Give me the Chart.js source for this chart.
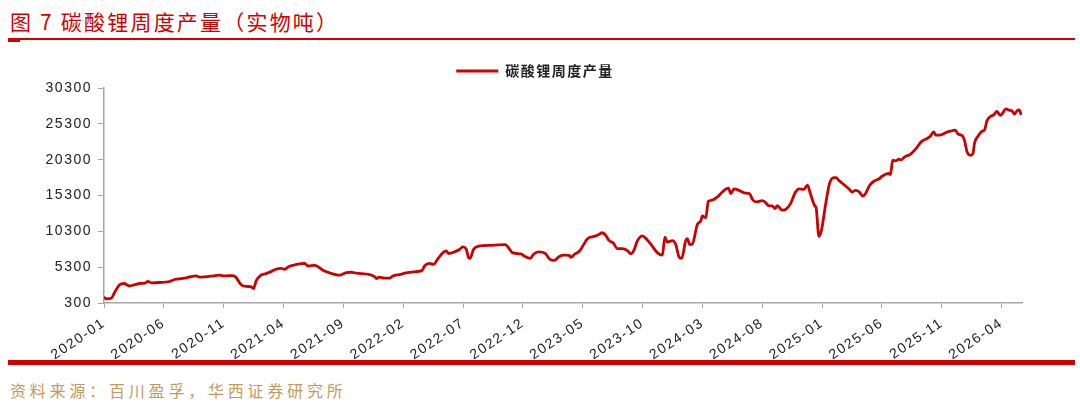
<!DOCTYPE html>
<html>
<head>
    <meta charset="utf-8">
    <title>碳酸锂周度产量</title>
    <script src="https://cdn.jsdelivr.net/npm/chart.js"></script>
    <style>
        body { margin: 0; width: 1080px; height: 406px; background: #fff; position: relative; overflow: hidden; }
        #title { position: absolute; left: 10px; top: 6px; font: 21px "Noto Sans CJK SC", sans-serif; color: #d40000; letter-spacing: 2.2px; }
        #topLine { position: absolute; left: 8px; top: 38px; width: 1067px; height: 2px; background: #d40000; }
        #topMark { position: absolute; left: 8px; top: 38px; width: 12px; height: 4px; background: #d40000; }
        #bottomLine { position: absolute; left: 8px; top: 360px; width: 1067px; height: 5px; background: #d40000; }
        #source { position: absolute; left: 10px; top: 378px; font: 16px "Noto Sans CJK SC", sans-serif; color: #c49a5c; letter-spacing: 3.8px; }
        #wrap { position: absolute; left: 0; top: 0; width: 1080px; height: 360px; }
    </style>
</head>
<body>
    <div id="title">图 7 碳酸锂周度产量（实物吨）</div>
    <div id="topLine"></div>
    <div id="topMark"></div>
    <div id="wrap"><canvas id="myChart"></canvas></div>
    <div id="bottomLine"></div>
    <div id="source">资料来源：百川盈孚，华西证券研究所</div>

    <script>
        // months since 2020-01 (weekly readings)
        const months = [
            0, 0.2, 0.61, 0.89, 1.31, 1.67, 2.14, 2.56, 2.98, 3.4,
            3.67, 3.95, 4.65, 5.48, 5.9, 6.45, 6.87, 7.28, 7.7, 7.98,
            8.4, 8.95, 9.64, 10.06, 10.76, 11.04, 11.45, 11.87, 12.29, 12.49,
            12.71, 13.11, 13.54, 13.96, 14.37, 14.79, 15.08, 15.49, 15.91, 16.18,
            16.77, 17.04, 17.6, 17.88, 18.29, 18.85, 19.69, 20.25, 20.66, 21.08,
            22.19, 22.61, 22.8, 22.97, 23.44, 23.86, 24.13, 24.69, 25.25, 26.09,
            26.59, 26.78, 27.2, 27.53, 27.89, 28.3, 28.59, 28.8, 29.28, 29.7,
            29.97, 30.26, 30.47, 30.59, 30.87, 31.23, 32.48, 33.54, 33.81, 34.15,
            34.85, 35.12, 35.62, 35.87, 36.32, 36.87, 37.26, 37.62, 38.04, 38.46,
            38.88, 39.02, 39.29, 39.71, 39.99, 40.4, 40.96, 41.38, 41.6, 41.88,
            42.21, 42.55, 42.9, 43.32, 43.74, 44.02, 44.3, 44.57, 44.99, 45.32,
            45.82, 46.24, 46.66, 46.86, 47.07, 47.49, 47.77, 48.05, 48.27, 48.6,
            48.74, 48.94, 49.16, 49.58, 49.86, 49.99, 50.28, 50.49, 50.78, 51.25,
            51.66, 52.0, 52.18, 52.37, 52.64, 53.06, 53.56, 53.95, 54.17, 54.45,
            55.0, 55.28, 55.56, 55.83, 56.06, 56.25, 56.67, 56.95, 57.36, 57.78,
            58.06, 58.47, 58.78, 59.03, 59.39, 59.5, 59.73, 59.95, 60.28, 60.62,
            60.98, 61.17, 61.4, 61.81, 62.23, 62.51, 62.79, 63.12, 63.4, 63.62,
            63.96, 64.32, 64.74, 65.01, 65.57, 65.71, 65.9, 66.18, 66.4, 66.62,
            66.9, 67.37, 67.79, 68.34, 68.76, 69.04, 69.32, 69.51, 70.01, 70.29,
            70.71, 71.13, 71.35, 71.74, 71.91, 72.1, 72.38, 72.6, 72.74, 73.02,
            73.35, 73.58, 73.77, 74.06, 74.33, 74.61, 74.89, 75.08, 75.35, 75.64,
            75.86, 76.08, 76.27, 76.47, 76.63
        ];
        // weekly output, tonnes
        const output = [
            1100, 880, 960, 1790, 2850, 3020, 2670, 2850, 3020, 3080,
            3300, 3120, 3160, 3300, 3580, 3710, 3810, 3990, 4080, 3910,
            3950, 4040, 4180, 4080, 4130, 3850, 2850, 2610, 2570, 2300,
            3400, 4180, 4400, 4680, 5010, 5140, 5010, 5420, 5600, 5720,
            5830, 5460, 5560, 5360, 4870, 4500, 4180, 4540, 4590, 4460,
            4270, 3990, 3710, 3900, 3770, 3770, 4080, 4270, 4500, 4680,
            4870, 5460, 5830, 5690, 6460, 7290, 7570, 7210, 7430, 7760,
            8120, 7840, 6600, 6520, 7760, 8210, 8350, 8450, 7980, 7290,
            7150, 6840, 6520, 7070, 7430, 7210, 6380, 6240, 6800, 6970,
            6930, 6660, 7070, 7520, 8210, 9270, 9590, 9900, 10100, 9820,
            9000, 8670, 7900, 7900, 7620, 7150, 7760, 9000, 9680, 9220,
            8210, 7290, 6970, 9500, 8800, 9000, 8450, 6700, 6520, 9000,
            9270, 8450, 8530, 11280, 11750, 12440, 12200, 14500, 14640, 15090,
            15780, 16230, 16330, 15550, 16230, 16010, 15640, 15550, 14780, 14400,
            14580, 14310, 13850, 13850, 13480, 13900, 13260, 13350, 14170, 15780,
            16230, 16150, 16750, 15500, 13850, 13580, 9590, 10500, 13950, 17000,
            17800, 17800, 17390, 16840, 16230, 15780, 16010, 15780, 15230, 15550,
            16700, 17290, 17610, 17980, 18390, 18210, 20220, 20140, 20360, 20280,
            20690, 21050, 21740, 22890, 23250, 23580, 24170, 23720, 23800, 24040,
            24270, 24410, 23900, 23580, 22890, 21420, 20910, 21150, 22660, 23580,
            24270, 24490, 25730, 26330, 26550, 27020, 26470, 26790, 27380, 27200,
            27100, 26650, 27100, 27240, 26550
        ];
        const seriesName = '碳酸锂周度产量';
        const yTicks = [300, 5300, 10300, 15300, 20300, 25300, 30300];

        function monthLabel(v) {
            const y = 2020 + Math.floor(v / 12);
            const m = (v % 12) + 1;
            return y + '-' + (m < 10 ? '0' + m : m);
        }

        const axisColor = '#a6a6a6';
        const tickFont = { family: '"Liberation Sans", Arial, sans-serif', size: 14 };

        // the source picture has wide-set glyphs, widen canvas text a bit
        const wideText = {
            id: 'wideText',
            beforeUpdate: c => { c.ctx.letterSpacing = '1.5px'; },
            beforeDraw: c => { c.ctx.letterSpacing = '1.5px'; },
            // let the y labels run past the layout padding instead of being clipped
            afterLayout: c => { c.scales.y.left = 0; }
        };

        new Chart(document.getElementById('myChart'), {
            type: 'line',
            data: {
                datasets: [{
                    label: seriesName,
                    data: months.map((m, i) => ({ x: m, y: output[i] })),
                    borderColor: '#cc0000',
                    backgroundColor: '#cc0000',
                    borderWidth: 2.8,
                    pointRadius: 0,
                    fill: false,
                    tension: 0.3,
                    cubicInterpolationMode: 'monotone'
                }]
            },
            options: {
                responsive: true,
                maintainAspectRatio: false,
                animation: false,
                layout: { padding: { top: 58, right: 58, left: 48, bottom: 0 } },
                plugins: {
                    tooltip: { enabled: false },
                    legend: {
                        position: 'top',
                        labels: {
                            boxWidth: 42,
                            boxHeight: 0,
                            padding: 6,
                            color: '#222',
                            font: { family: '"Noto Sans CJK SC", sans-serif', size: 14, weight: 'bold' }
                        }
                    }
                },
                scales: {
                    x: {
                        type: 'linear',
                        min: 0,
                        max: 76.7,
                        grid: { display: true, drawOnChartArea: false, drawTicks: true, tickLength: 5, color: axisColor },
                        border: { color: axisColor, width: 1.5 },
                        ticks: {
                            stepSize: 5,
                            includeBounds: false,
                            autoSkip: false,
                            maxRotation: 34,
                            minRotation: 34,
                            color: '#222',
                            font: tickFont,
                            padding: 7,
                            callback: v => monthLabel(v)
                        },
                        afterFit: s => { s.height = 57; }
                    },
                    y: {
                        min: 300,
                        max: 30300,
                        afterBuildTicks: s => { s.ticks = yTicks.map(v => ({ value: v })); },
                        grid: { display: true, drawOnChartArea: false, drawTicks: true, tickLength: 6, color: axisColor },
                        border: { color: axisColor, width: 1.5 },
                        ticks: { color: '#222', font: tickFont, padding: 6, callback: v => String(v) },
                        afterFit: s => { s.width = 56; }
                    }
                }
            },
            plugins: [wideText]
        });
    </script>
</body>
</html>
